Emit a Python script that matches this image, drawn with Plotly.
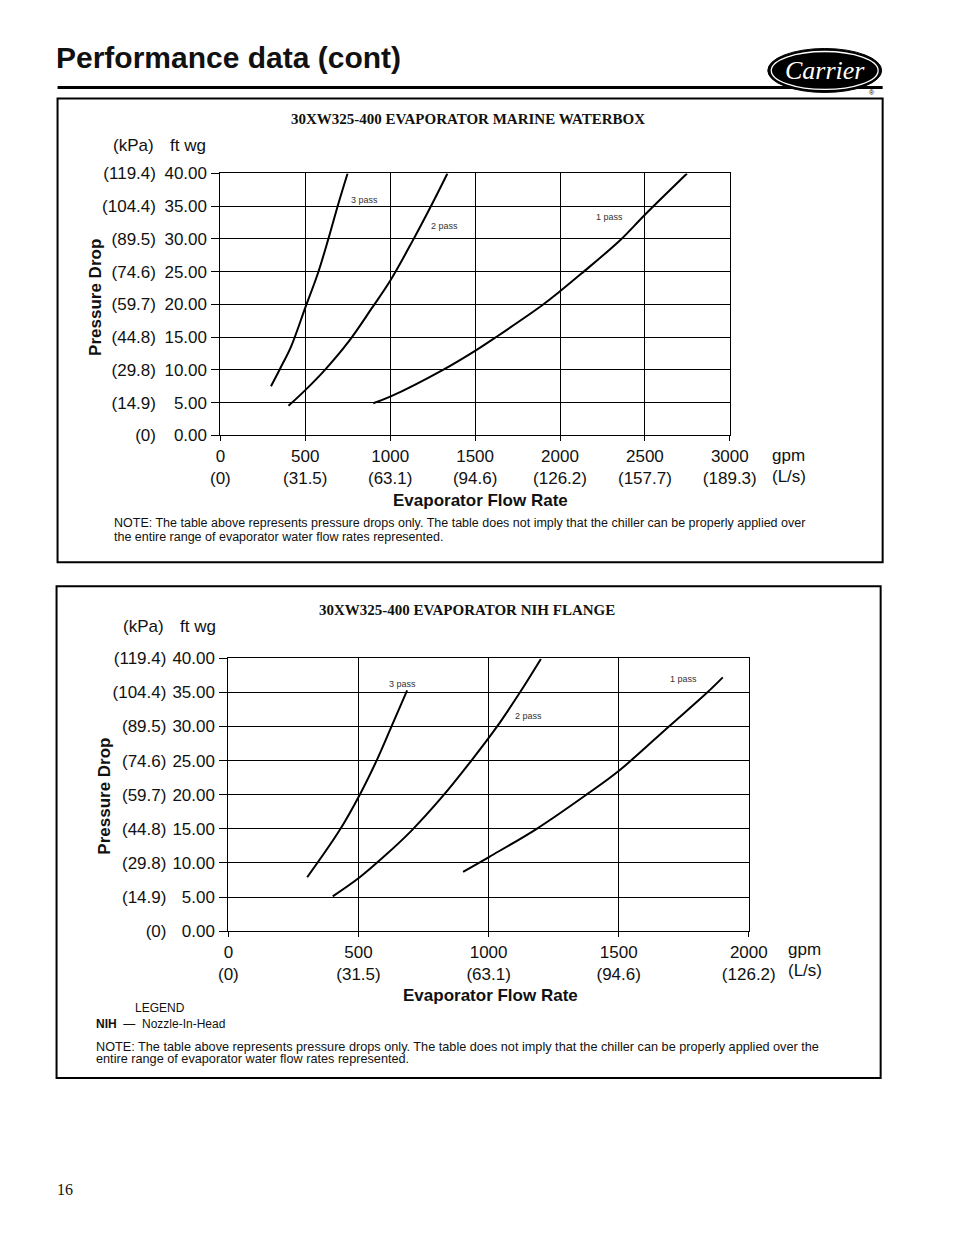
import plotly.graph_objects as go

W, H = 954, 1235

# ---------------- data ----------------
# Chart 1: 30XW325-400 Evaporator Marine Waterbox (gpm vs ft wg)
mw_3pass_gpm = [298, 350, 417, 500, 575, 636, 694, 749]
mw_3pass_ft = [7.5, 10.1, 13.6, 19.5, 24.8, 30.0, 35.3, 40.0]
mw_2pass_gpm = [401, 500, 616, 755, 894, 1000, 1132, 1242, 1337]
mw_2pass_ft = [4.5, 6.9, 10.0, 14.3, 19.5, 23.6, 29.7, 35.1, 40.0]
mw_1pass_gpm = [900, 1000, 1311, 1500, 1629, 1897, 2000, 2126, 2354, 2500, 2748]
mw_1pass_ft = [4.9, 5.9, 10.0, 12.9, 15.1, 19.9, 22.0, 24.7, 29.8, 33.7, 40.0]

# Chart 2: 30XW325-400 Evaporator NIH Flange
nih_3pass_gpm = [303, 426, 505, 571, 627, 687]
nih_3pass_ft = [7.9, 14.7, 20.0, 25.1, 30.0, 35.3]
nih_2pass_gpm = [401, 505, 600, 703, 822, 934, 1033, 1119, 1201]
nih_2pass_ft = [5.1, 7.9, 11.0, 14.7, 19.7, 25.0, 30.0, 34.9, 39.9]
nih_1pass_gpm = [902, 1003, 1185, 1376, 1501, 1693, 1838, 1900]
nih_1pass_ft = [8.7, 10.9, 15.0, 20.0, 23.5, 30.0, 34.9, 37.2]

# tick labels
y_ticks_ft = [0, 5, 10, 15, 20, 25, 30, 35, 40]
y_text_ft = ["0.00", "5.00", "10.00", "15.00", "20.00", "25.00", "30.00", "35.00", "40.00"]
y_text_kpa = ["(0)", "(14.9)", "(29.8)", "(44.8)", "(59.7)", "(74.6)", "(89.5)", "(104.4)", "(119.4)"]

x1_ticks = [0, 500, 1000, 1500, 2000, 2500, 3000]
x1_ls = ["(0)", "(31.5)", "(63.1)", "(94.6)", "(126.2)", "(157.7)", "(189.3)"]
x2_ticks = [0, 500, 1000, 1500, 2000]
x2_ls = ["(0)", "(31.5)", "(63.1)", "(94.6)", "(126.2)"]

pass_labels = ["3 pass", "2 pass", "1 pass"]
mw_label_gpm = [847, 1318, 2294]
mw_label_ft = [35.9, 31.9, 33.4]
nih_label_gpm = [668, 1155, 1750]
nih_label_ft = [36.2, 31.6, 36.9]

# ---------------- helpers ----------------
# the page is drawn into an effective area of about 918 x 1216 px offset by (9.4, 8.5)
EFF_W, EFF_H, OFF_X, OFF_Y = 918.0, 1216.5, 9.4, 8.5


def px(x):
    return (x - OFF_X) / EFF_W


def py(y):
    return 1 - (y - OFF_Y) / EFF_H


SANS = "Liberation Sans, Arial, sans-serif"
SERIF = "Liberation Serif, Times New Roman, serif"
TXT = "#111111"

fig = go.Figure()

line_style = dict(color="black", width=2, shape="spline", smoothing=1.0)
for xs, ys in [(mw_3pass_gpm, mw_3pass_ft), (mw_2pass_gpm, mw_2pass_ft), (mw_1pass_gpm, mw_1pass_ft)]:
    fig.add_trace(go.Scatter(x=xs, y=ys, mode="lines", line=line_style, xaxis="x", yaxis="y",
                             showlegend=False, hoverinfo="skip"))
for xs, ys in [(nih_3pass_gpm, nih_3pass_ft), (nih_2pass_gpm, nih_2pass_ft), (nih_1pass_gpm, nih_1pass_ft)]:
    fig.add_trace(go.Scatter(x=xs, y=ys, mode="lines", line=line_style, xaxis="x2", yaxis="y2",
                             showlegend=False, hoverinfo="skip"))
# empty traces so the secondary (kPa) label axes get drawn
fig.add_trace(go.Scatter(x=[None], y=[None], mode="lines", xaxis="x", yaxis="y3",
                         showlegend=False, hoverinfo="skip"))
fig.add_trace(go.Scatter(x=[None], y=[None], mode="lines", xaxis="x2", yaxis="y4",
                         showlegend=False, hoverinfo="skip"))

common_x = dict(showgrid=True, gridcolor="black", gridwidth=1, showline=True, mirror=True,
                linecolor="black", linewidth=1, ticks="outside", ticklen=5, tickcolor="black",
                zeroline=False, tickfont=dict(family=SANS, size=17, color=TXT), fixedrange=True,
                ticklabelstandoff=0)
common_y = dict(showgrid=True, gridcolor="black", gridwidth=1, showline=True, mirror=True,
                linecolor="black", linewidth=1, ticks="outside", ticklen=8, tickcolor="black",
                zeroline=False, tickfont=dict(family=SANS, size=17, color=TXT), fixedrange=True,
                range=[0, 40], tickvals=y_ticks_ft, ticktext=y_text_ft, ticklabelstandoff=1)
kpa_y = dict(showgrid=False, showline=False, ticks="", zeroline=False, range=[0, 40],
             tickvals=y_ticks_ft, ticktext=y_text_kpa, tickfont=dict(family=SANS, size=17, color=TXT),
             fixedrange=True, anchor="free", side="left")

fig.update_layout(
    width=W, height=H, margin=dict(l=0, r=0, t=0, b=0),
    paper_bgcolor="white", plot_bgcolor="white", showlegend=False,
    xaxis=dict(common_x, domain=[px(220), px(730)], range=[0, 3000], anchor="y",
               tickvals=x1_ticks, ticktext=[f"{v}<br>{s}" for v, s in zip(x1_ticks, x1_ls)]),
    yaxis=dict(common_y, domain=[py(435), py(173)], anchor="x"),
    yaxis3=dict(kpa_y, overlaying="y", position=px(155.5)),
    xaxis2=dict(common_x, domain=[px(228), px(749)], range=[0, 2000], anchor="y2",
                tickvals=x2_ticks, ticktext=[f"{v}<br>{s}" for v, s in zip(x2_ticks, x2_ls)]),
    yaxis2=dict(common_y, domain=[py(931), py(658)], anchor="x2"),
    yaxis4=dict(kpa_y, overlaying="y2", position=px(166)),
)

ann = []


def A(x, y, text, size, family=SANS, xanchor="center", yanchor="middle", color=TXT, **kw):
    ann.append(dict(x=px(x), y=py(y), xref="paper", yref="paper", text=text, showarrow=False,
                    xanchor=xanchor, yanchor=yanchor, font=dict(family=family, size=size, color=color), **kw))


# page header
A(53, 57, "<b>Performance data (cont)</b>", 30, xanchor="left")
A(825, 70, "<i>Carrier</i>", 26, family=SERIF, color="white")
A(872, 92, "®", 7, color="black")
A(54, 1189, "16", 16, family=SERIF, xanchor="left")

# chart 1 texts
A(468, 119, "<b>30XW325-400 EVAPORATOR MARINE WATERBOX</b>", 15, family=SERIF)
A(156, 145, "(kPa)", 17, xanchor="right")
A(208, 145, "ft wg", 17, xanchor="right")
A(789, 455, "gpm", 17)
A(789, 476, "(L/s)", 17)
A(480, 500, "<b>Evaporator Flow Rate</b>", 17)
A(95, 297, "<b>Pressure Drop</b>", 17, textangle=-90)
A(112, 523, "NOTE: The table above represents pressure drops only. The table does not imply that the chiller can be properly applied over",
  12.5, xanchor="left")
A(112, 537, "the entire range of evaporator water flow rates represented.", 12.5, xanchor="left")

# chart 2 texts
A(467, 610, "<b>30XW325-400 EVAPORATOR NIH FLANGE</b>", 15, family=SERIF)
A(166, 626, "(kPa)", 17, xanchor="right")
A(218, 626, "ft wg", 17, xanchor="right")
A(805, 949, "gpm", 17)
A(805, 970, "(L/s)", 17)
A(490, 995, "<b>Evaporator Flow Rate</b>", 17)
A(104, 796, "<b>Pressure Drop</b>", 17, textangle=-90)
A(160, 1008, "LEGEND", 12)
A(93, 1024, "<b>NIH</b>  —  Nozzle-In-Head", 12, xanchor="left")
A(93, 1047, "NOTE: The table above represents pressure drops only. The table does not imply that the chiller can be properly applied over the",
  12.7, xanchor="left")
A(93, 1059, "entire range of evaporator water flow rates represented.", 12.7, xanchor="left")

# pass labels on curves
for t, gx, gy in zip(pass_labels, mw_label_gpm, mw_label_ft):
    ann.append(dict(x=gx, y=gy, xref="x", yref="y", text=t, showarrow=False,
                    font=dict(family=SANS, size=9, color="#333333")))
for t, gx, gy in zip(pass_labels, nih_label_gpm, nih_label_ft):
    ann.append(dict(x=gx, y=gy, xref="x2", yref="y2", text=t, showarrow=False,
                    font=dict(family=SANS, size=9, color="#333333")))

fig.update_layout(annotations=ann)

shapes = [
    # header rule
    dict(type="line", xref="paper", yref="paper", x0=px(57), x1=px(883), y0=py(87), y1=py(87),
         line=dict(color="black", width=3)),
    # boxes
    dict(type="rect", xref="paper", yref="paper", x0=px(57), x1=px(883), y0=py(562), y1=py(98),
         line=dict(color="black", width=2)),
    dict(type="rect", xref="paper", yref="paper", x0=px(56), x1=px(881), y0=py(1078), y1=py(586),
         line=dict(color="black", width=2)),
    # logo
    dict(type="circle", xref="paper", yref="paper", x0=px(768), x1=px(882), y0=py(92), y1=py(48),
         fillcolor="black", line=dict(color="black", width=1), layer="below"),
    dict(type="circle", xref="paper", yref="paper", x0=px(771.5), x1=px(878.5), y0=py(89), y1=py(51),
         fillcolor="rgba(0,0,0,0)", line=dict(color="white", width=1.3)),
]
fig.update_layout(shapes=shapes)

fig.write_html("out.html", config={"displayModeBar": False},
               post_script="document.body.style.margin='0';document.body.style.overflow='hidden';")
